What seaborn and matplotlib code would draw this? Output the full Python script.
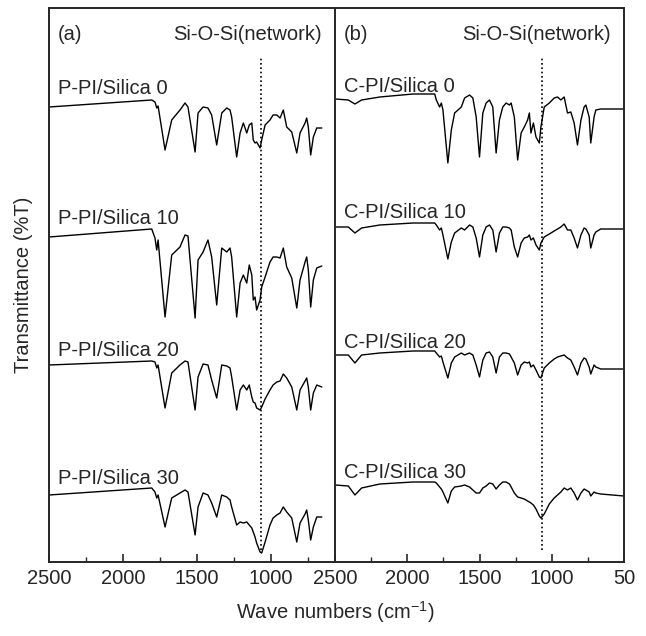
import matplotlib
matplotlib.use("Agg")
import matplotlib.pyplot as plt
import numpy as np
import pandas as pd
import seaborn as sns
from matplotlib.ticker import MultipleLocator

# wave numbers (cm-1)
wn_a = [2500, 1806, 1784, 1772, 1763, 1716, 1671, 1615, 1581, 1561,
        1513, 1493, 1459, 1426, 1401, 1367, 1333, 1299, 1277, 1266,
        1232, 1209, 1187, 1164, 1147, 1130, 1120, 1108, 1097, 1074,
        1063, 1040, 1007, 986, 961, 939, 917, 894, 860, 826,
        804, 770, 759, 748, 732, 714, 691, 657]

# stacked transmittance (arbitrary units, offset per sample)
p_pi_0 = [455, 462, 460, 454, 456, 412, 442, 452, 459, 455,
          410, 449, 455, 454, 447, 417, 449, 454, 452, 445,
          405, 429, 439, 429, 437, 439, 422, 419, 420, 414,
          422, 437, 442, 447, 447, 444, 452, 435, 430, 409,
          429, 439, 444, 435, 407, 425, 434, 434]
p_pi_10 = [325, 333, 324, 312, 322, 245, 307, 315, 327, 326,
           244, 302, 310, 322, 305, 257, 314, 310, 314, 305,
           245, 279, 287, 279, 297, 287, 262, 265, 252, 262,
           275, 285, 300, 305, 305, 304, 314, 295, 284, 254,
           282, 300, 305, 292, 255, 282, 294, 296]
p_pi_20 = [197, 201, 200, 194, 197, 154, 189, 197, 201, 200,
           152, 185, 198, 197, 182, 164, 197, 196, 194, 185,
           152, 172, 177, 172, 177, 165, 160, 159, 154, 152,
           155, 163, 172, 177, 180, 181, 188, 184, 175, 152,
           172, 181, 184, 175, 152, 169, 177, 175]
p_pi_30 = [67, 74, 70, 64, 67, 35, 64, 69, 72, 70,
           27, 55, 69, 67, 59, 45, 67, 65, 62, 55,
           37, 40, 39, 40, 37, 34, 30, 25, 19, 10,
           9, 20, 37, 44, 47, 49, 55, 50, 44, 20,
           39, 48, 52, 42, 22, 35, 45, 45]

# wave numbers (cm-1)
wn_b = [2500, 2408, 2362, 2316, 2190, 1960, 1810, 1799, 1776, 1764,
        1753, 1719, 1695, 1672, 1626, 1603, 1569, 1546, 1523, 1500,
        1477, 1454, 1431, 1408, 1385, 1362, 1339, 1316, 1293, 1281,
        1259, 1236, 1212, 1190, 1167, 1155, 1144, 1127, 1109, 1086,
        1075, 1052, 1017, 983, 960, 937, 914, 891, 868, 845,
        822, 798, 776, 764, 741, 730, 707, 695, 661, 500]

c_pi_0 = [463, 462, 458, 462, 465, 468, 468, 462, 455, 459,
          452, 399, 432, 449, 455, 464, 467, 464, 445, 405,
          449, 459, 462, 455, 409, 442, 455, 459, 457, 459,
          445, 402, 429, 435, 442, 449, 429, 439, 425, 419,
          435, 455, 459, 464, 465, 462, 465, 449, 450, 439,
          417, 442, 455, 457, 445, 419, 445, 452, 453, 453]
c_pi_10 = [335, 335, 329, 334, 337, 339, 339, 337, 332, 334,
           327, 303, 320, 329, 334, 332, 337, 335, 324, 305,
           327, 335, 337, 332, 310, 329, 335, 335, 334, 332,
           315, 305, 319, 324, 325, 327, 322, 324, 317, 312,
           319, 325, 328, 331, 333, 335, 338, 332, 332, 324,
           314, 327, 334, 333, 327, 314, 327, 330, 333, 333]
c_pi_20 = [207, 207, 199, 207, 209, 211, 211, 209, 205, 206,
           200, 184, 199, 205, 209, 207, 209, 207, 197, 185,
           202, 209, 210, 205, 189, 205, 209, 209, 208, 205,
           199, 187, 197, 200, 199, 200, 195, 197, 192, 185,
           184, 194, 199, 203, 205, 206, 207, 204, 202, 195,
           187, 199, 204, 203, 195, 188, 197, 195, 193, 193]
c_pi_30 = [77, 76, 67, 74, 78, 80, 80, 79, 75, 73,
           70, 59, 71, 75, 76, 77, 75, 72, 69, 69,
           74, 76, 79, 78, 73, 77, 80, 80, 78, 75,
           69, 65, 64, 63, 61, 60, 59, 57, 53, 46,
           44, 48, 58, 64, 67, 70, 74, 72, 74, 69,
           62, 69, 73, 72, 70, 66, 70, 69, 68, 66]

names_a = ["P-PI/Silica 0", "P-PI/Silica 10", "P-PI/Silica 20", "P-PI/Silica 30"]
names_b = ["C-PI/Silica 0", "C-PI/Silica 10", "C-PI/Silica 20", "C-PI/Silica 30"]
ticks_b = ["2500", "2000", "1500", "1000", "50"]
si_o_si = 1065

sns.set_style("ticks")
plt.rcParams["font.family"] = ["Liberation Sans", "DejaVu Sans"]
plt.rcParams["mathtext.fontset"] = "custom"
plt.rcParams["mathtext.rm"] = "Liberation Sans"
plt.rcParams["mathtext.it"] = "Liberation Sans:italic"
fs = 14.5

fig = plt.figure(figsize=(6.46, 6.36), dpi=100)
ax_a = fig.add_axes([49 / 646, 74 / 636, 287 / 646, 554 / 636])
ax_b = fig.add_axes([335 / 646, 74 / 636, 289 / 646, 554 / 636])


def draw(ax, wn, series, names, tag, xlim, note_x, label_y):
    for vals, name in zip(series, names):
        df = pd.DataFrame({"wn": wn, "T": vals})
        sns.lineplot(data=df, x="wn", y="T", ax=ax, color="black", lw=1.0,
                     sort=False, estimator=None)
    ax.vlines(si_o_si, 12, 505, colors="black", linestyles=(0, (1, 1.6)), lw=1.2)
    ax.set_xlim(*xlim)
    ax.set_ylim(0, 554)
    ax.set_yticks([])
    ax.set_xlabel("")
    ax.set_ylabel("")
    ax.xaxis.set_major_locator(MultipleLocator(500))
    ax.xaxis.set_minor_locator(MultipleLocator(250))
    ax.tick_params(axis="x", which="major", direction="in", length=6, width=1.2,
                   labelsize=fs, pad=5, top=False)
    ax.tick_params(axis="x", which="minor", direction="in", length=3.5, width=1.0,
                   top=False)
    for s in ax.spines.values():
        s.set_linewidth(1.4)
        s.set_visible(True)
    x0 = xlim[0] - 0.032 * (xlim[0] - xlim[1])
    ax.text(x0, 527, tag, fontsize=fs, ha="left", va="center")
    ax.text(note_x, 527, "Si-O-Si(network)", fontsize=fs, ha="right", va="center")
    for name, ly in zip(names, label_y):
        ax.text(x0, ly, name, fontsize=fs, ha="left", va="center")


draw(ax_a, wn_a, [p_pi_0, p_pi_10, p_pi_20, p_pi_30], names_a, "(a)",
     (2500, 561), 655, [473, 344, 212, 83])
draw(ax_b, wn_b, [c_pi_0, c_pi_10, c_pi_20, c_pi_30], names_b, "(b)",
     (2500, 500), 590, [475, 350, 219, 90])

ax_a.set_xticks([2500, 2000, 1500, 1000])
ax_b.set_xticks([2500, 2000, 1500, 1000, 500])
ax_b.set_xticklabels(ticks_b)

fig.text(24 / 646, 1 - 285 / 636, "Transmittance (%T)", rotation=90,
         fontsize=fs, ha="center", va="center")
fig.text(335 / 646, 1 - 612 / 636, "Wave numbers (cm$^{-1}$)",
         fontsize=fs, ha="center", va="center")

fig.savefig("out.png", dpi=100)
